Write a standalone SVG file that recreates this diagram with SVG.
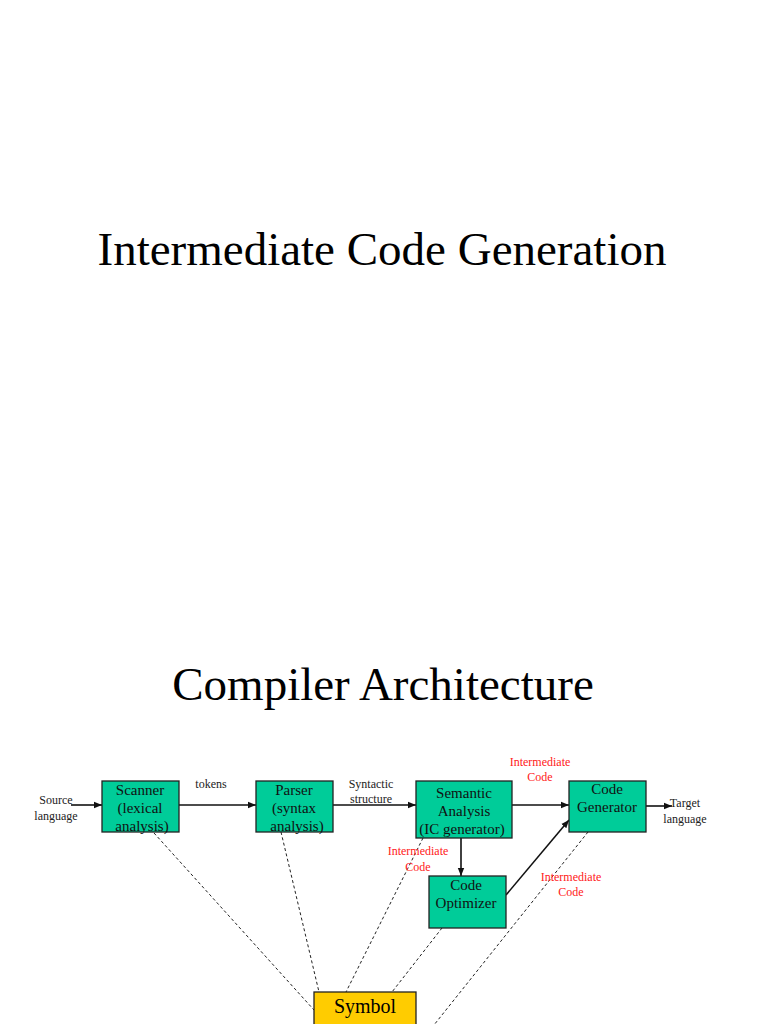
<svg xmlns="http://www.w3.org/2000/svg" width="768" height="1024" viewBox="0 0 768 1024">
<style>
text{font-family:"Liberation Serif","Times New Roman",serif;text-anchor:middle;}
.title{font-size:47px;fill:#000;}
.box{fill:#00CC99;stroke:#222;stroke-width:1.3;}
.sym{fill:#FFCC00;stroke:#222;stroke-width:1.3;}
.bt{font-size:15px;fill:#111;}
.lb{font-size:12px;fill:#222;}
.red{font-size:12px;fill:#FF2020;}
.arr{stroke:#111;stroke-width:1.6;fill:none;marker-end:url(#ah);}
.dash{stroke:#222;stroke-width:1;stroke-dasharray:3,2.5;fill:none;}
</style>
<defs>
<marker id="ah" viewBox="0 0 10 10" refX="10" refY="5" markerWidth="5" markerHeight="5" orient="auto" markerUnits="strokeWidth">
<path d="M0,1 L10,5 L0,9 z" fill="#111"/>
</marker>
</defs>
<rect width="768" height="1024" fill="#fff"/>
<text class="title" x="382" y="265">Intermediate Code Generation</text>
<text class="title" x="383" y="700">Compiler Architecture</text>

<g id="connectors">
<line class="arr" x1="71" y1="805" x2="102" y2="805"/>
<line class="arr" x1="179" y1="805" x2="256" y2="805"/>
<line class="arr" x1="333" y1="805" x2="416" y2="805"/>
<line class="arr" x1="512" y1="805" x2="569" y2="805"/>
<line class="arr" x1="646" y1="806" x2="672" y2="806"/>
<line class="arr" x1="461" y1="838" x2="461" y2="876"/>
<line class="arr" x1="506" y1="895" x2="569" y2="820"/>
<line class="dash" x1="154" y1="833" x2="314" y2="1010"/>
<line class="dash" x1="281" y1="832" x2="319" y2="992"/>
<line class="dash" x1="423" y1="838" x2="346" y2="992"/>
<line class="dash" x1="442" y1="928" x2="392" y2="992"/>
<line class="dash" x1="588" y1="832" x2="430" y2="1030"/>
</g>

<g id="labels">
<text class="lb" x="56" y="804">Source</text>
<text class="lb" x="56" y="820">language</text>
<text class="lb" x="211" y="788">tokens</text>
<text class="lb" x="371" y="788">Syntactic</text>
<text class="lb" x="371" y="803">structure</text>
<text class="red" x="540" y="766">Intermediate</text>
<text class="red" x="540" y="781">Code</text>
<text class="red" x="418" y="855">Intermediate</text>
<text class="red" x="418" y="871">Code</text>
<text class="red" x="571" y="881">Intermediate</text>
<text class="red" x="571" y="896">Code</text>
<text class="lb" x="685" y="807">Target</text>
<text class="lb" x="685" y="823">language</text>
</g>

<g id="scanner">
<rect class="box" x="102" y="781" width="77" height="51"/>
<text class="bt" x="140" y="795">Scanner</text>
<text class="bt" x="140" y="813">(lexical</text>
<text class="bt" x="142" y="831">analysis)</text>
</g>
<g id="parser">
<rect class="box" x="256" y="781" width="77" height="51"/>
<text class="bt" x="294" y="795">Parser</text>
<text class="bt" x="294" y="813">(syntax</text>
<text class="bt" x="297" y="831">analysis)</text>
</g>
<g id="semantic">
<rect class="box" x="416" y="781" width="96" height="57"/>
<text class="bt" x="464" y="798">Semantic</text>
<text class="bt" x="464" y="816">Analysis</text>
<text class="bt" x="462" y="834">(IC generator)</text>
</g>
<g id="codegen">
<rect class="box" x="569" y="781" width="77" height="51"/>
<text class="bt" x="607" y="794">Code</text>
<text class="bt" x="607" y="812">Generator</text>
</g>
<g id="optimizer">
<rect class="box" x="429" y="876" width="77" height="52"/>
<text class="bt" x="466" y="890">Code</text>
<text class="bt" x="466" y="908">Optimizer</text>
</g>
<g id="symboltable">
<rect class="sym" x="314" y="992" width="102" height="60"/>
<text x="365" y="1013" style="font-size:20px;fill:#000">Symbol</text>
<text x="365" y="1038" style="font-size:20px;fill:#000">Table</text>
</g>
</svg>
